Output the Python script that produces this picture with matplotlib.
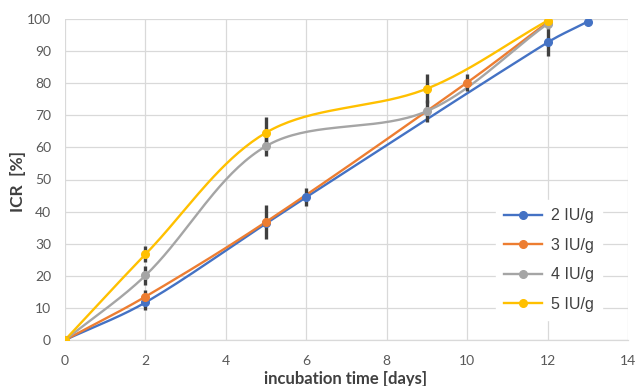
import numpy as np
import matplotlib
matplotlib.use("Agg")
import matplotlib.pyplot as plt

# ---- data ----
labels = ["2 IU/g", "3 IU/g", "4 IU/g", "5 IU/g"]
colors = ["#4472C4", "#ED7D31", "#A5A5A5", "#FFC000"]

x_2 = [0, 2, 5, 6, 12, 13]
y_2 = [0, 11.7, 36.3, 44.5, 92.7, 99.2]
e_2 = [0, 2.3, 0, 2.8, 4.1, 0]

x_3 = [0, 2, 5, 10, 12]
y_3 = [0, 13.5, 36.8, 80.2, 99.0]
e_3 = [0, 2.0, 5.4, 2.7, 1.0]

x_4 = [0, 2, 5, 9, 12]
y_4 = [0, 20.1, 60.4, 71.3, 98.5]
e_4 = [0, 3.0, 3.2, 3.4, 1.5]

x_5 = [0, 2, 5, 9, 12]
y_5 = [0, 26.7, 64.6, 78.3, 99.5]
e_5 = [0, 2.5, 4.8, 4.5, 0.5]

xs = [x_2, x_3, x_4, x_5]
ys = [y_2, y_3, y_4, y_5]
es = [e_2, e_3, e_4, e_5]

x_ticks = [0, 2, 4, 6, 8, 10, 12, 14]
y_ticks = [0, 10, 20, 30, 40, 50, 60, 70, 80, 90, 100]

SX, SY = 40.2, 3.2  # pixel scale used for smoothing geometry


def smooth(x, y, n=40):
    """Excel-like smoothed line: cubic Bezier with length-weighted tangents."""
    P = np.column_stack([np.asarray(x, float) * SX, np.asarray(y, float) * SY])
    m = len(P)
    out = []
    for i in range(m - 1):
        p0 = P[i]
        p3 = P[i + 1]
        pm = P[i - 1] if i > 0 else P[i]
        pp = P[i + 2] if i + 2 < m else P[i + 1]
        L01 = np.linalg.norm(p3 - p0)
        Lm0 = np.linalg.norm(p0 - pm)
        L12 = np.linalg.norm(pp - p3)
        c1 = p0 + (p3 - pm) * L01 / (Lm0 + L01) / 3.0
        c2 = p3 - (pp - p0) * L01 / (L01 + L12) / 3.0
        t = np.linspace(0, 1, n)[:, None]
        b = ((1 - t) ** 3) * p0 + 3 * ((1 - t) ** 2) * t * c1 + 3 * (1 - t) * t ** 2 * c2 + t ** 3 * p3
        if i > 0:
            b = b[1:]
        out.append(b)
    B = np.vstack(out)
    return B[:, 0] / SX, B[:, 1] / SY


fig = plt.figure(figsize=(6.38, 3.86), dpi=100)
ax = fig.add_axes([65 / 638, 1 - 340 / 386, (628 - 65) / 638, (340 - 19) / 386])

for x, y, e in zip(xs, ys, es):
    xe = [a for a, b in zip(x, e) if b > 0]
    ye = [a for a, b in zip(y, e) if b > 0]
    ee = [b for b in e if b > 0]
    ax.errorbar(xe, ye, yerr=ee, fmt="none", ecolor="#404040", elinewidth=2.4,
                capsize=0, zorder=4)

for x, y, c, lab in zip(xs, ys, colors, labels):
    sx, sy = smooth(x, y)
    ax.plot(sx, sy, color=c, lw=1.7, zorder=3, solid_capstyle="round")
    ax.plot(x, y, "o", color=c, ms=5.5, zorder=5)
    ax.plot([], [], "-o", color=c, lw=1.7, ms=5.5, label=lab)

ax.set_xlim(0, 14)
ax.set_ylim(0, 100)
ax.set_xticks(x_ticks)
ax.set_yticks(y_ticks)
ax.grid(True, color="#D9D9D9", lw=0.9)
ax.set_axisbelow(True)
for s in ["top", "right", "left"]:
    ax.spines[s].set_visible(False)
ax.spines["bottom"].set_color("#D9D9D9")
ax.spines["bottom"].set_linewidth(0.9)
ax.tick_params(axis="y", length=0, pad=10, labelsize=10, labelcolor="#595959")
ax.tick_params(axis="x", length=0, pad=11, labelsize=10, labelcolor="#595959")
for t in ax.get_xticklabels() + ax.get_yticklabels():
    t.set_fontfamily("Lato")

fig.text(346 / 638, 1 - 384 / 386, "incubation time [days]", ha="center", va="baseline",
         fontsize=12, fontweight="bold", color="#404040", family="Lato")
fig.text(18 / 638, 1 - 181 / 386, "ICR  [%]", ha="center", va="center", rotation=90,
         fontsize=12.5, fontweight="bold", color="#404040", family="Lato")

leg = ax.legend(loc="center", bbox_to_anchor=(549 / 638, 1 - 260 / 386),
                bbox_transform=fig.transFigure, frameon=True, fancybox=False,
                framealpha=1, edgecolor="white", facecolor="white",
                prop={"family": "Liberation Sans", "size": 11.5},
                handlelength=2.4, handletextpad=0.6, labelspacing=0.9,
                borderpad=0.5)
for t in leg.get_texts():
    t.set_color("#404040")
leg.set_zorder(10)

fig.savefig("out.png", dpi=100)
